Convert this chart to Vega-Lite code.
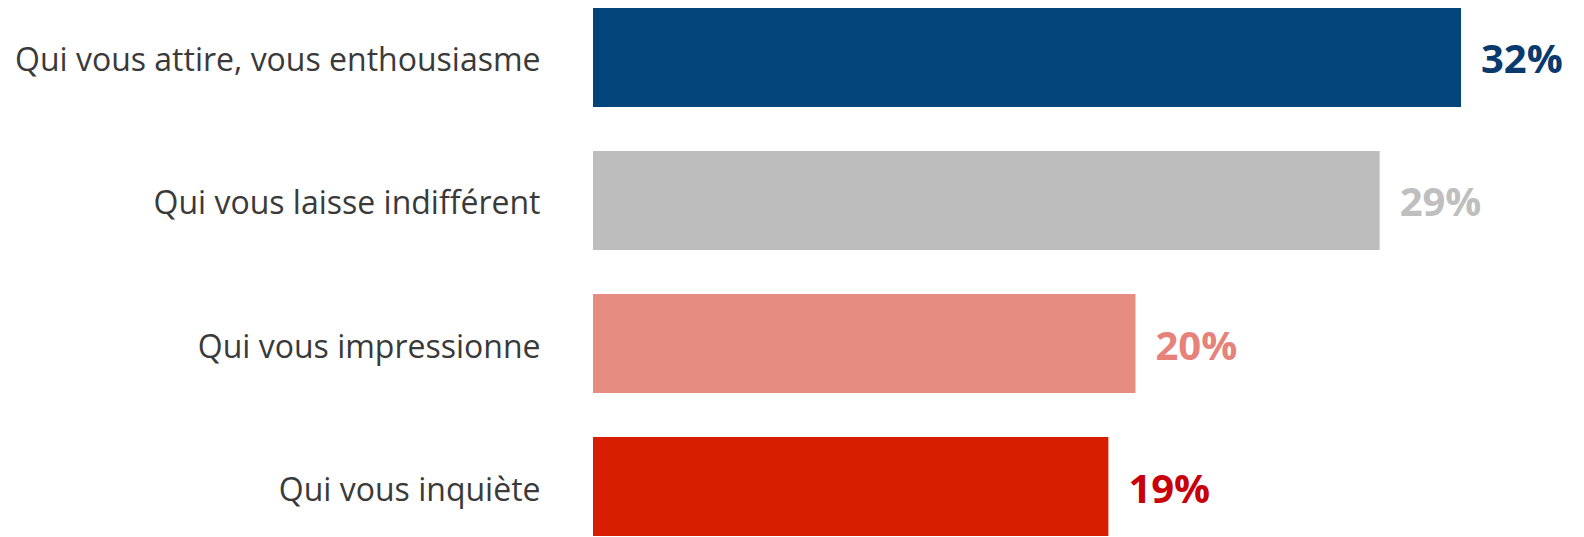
{
  "$schema": "https://vega.github.io/schema/vega-lite/v6.json",
  "autosize": {"type": "none"},
  "padding": {"left": 593, "top": 8, "right": 123, "bottom": 1},
  "width": 868,
  "height": 528,
  "background": "white",
  "config": {"view": {"stroke": null}},
  "data": {"values": [
    {"categorie": "Qui vous attire, vous enthousiasme", "part": 0.32},
    {"categorie": "Qui vous laisse indifférent", "part": 0.29},
    {"categorie": "Qui vous impressionne", "part": 0.20},
    {"categorie": "Qui vous inquiète", "part": 0.19}
  ]},
  "encoding": {
    "y": {
      "field": "categorie", "type": "nominal", "sort": null,
      "scale": {"paddingInner": 0.3077, "paddingOuter": 0},
      "axis": {"title": null, "domain": false, "ticks": false, "labelPadding": 53, "labelOffset": 4,
               "labelFont": "Open Sans", "labelFontSize": 32, "labelColor": "#3a3a3a", "labelLimit": 0}
    },
    "x": {
      "field": "part", "type": "quantitative",
      "scale": {"domain": [0, 0.32], "nice": false, "zero": true},
      "axis": null
    }
  },
  "layer": [
    {
      "mark": {"type": "bar"},
      "encoding": {
        "color": {
          "field": "categorie", "type": "nominal", "legend": null,
          "scale": {
            "domain": ["Qui vous attire, vous enthousiasme", "Qui vous laisse indifférent", "Qui vous impressionne", "Qui vous inquiète"],
            "range": ["#02457A", "#BDBDBD", "#E68C80", "#D71E00"]
          }
        }
      }
    },
    {
      "mark": {"type": "text", "align": "left", "baseline": "middle", "dx": 20, "dy": 4,
               "font": "Open Sans", "fontSize": 40, "fontWeight": "bold"},
      "encoding": {
        "text": {"field": "part", "type": "quantitative", "format": ".0%"},
        "color": {
          "field": "categorie", "type": "nominal", "legend": null,
          "scale": {
            "domain": ["Qui vous attire, vous enthousiasme", "Qui vous laisse indifférent", "Qui vous impressionne", "Qui vous inquiète"],
            "range": ["#083A6E", "#BFBFBF", "#E6827A", "#C8000A"]
          }
        }
      }
    }
  ],
  "resolve": {"scale": {"color": "independent"}}
}
